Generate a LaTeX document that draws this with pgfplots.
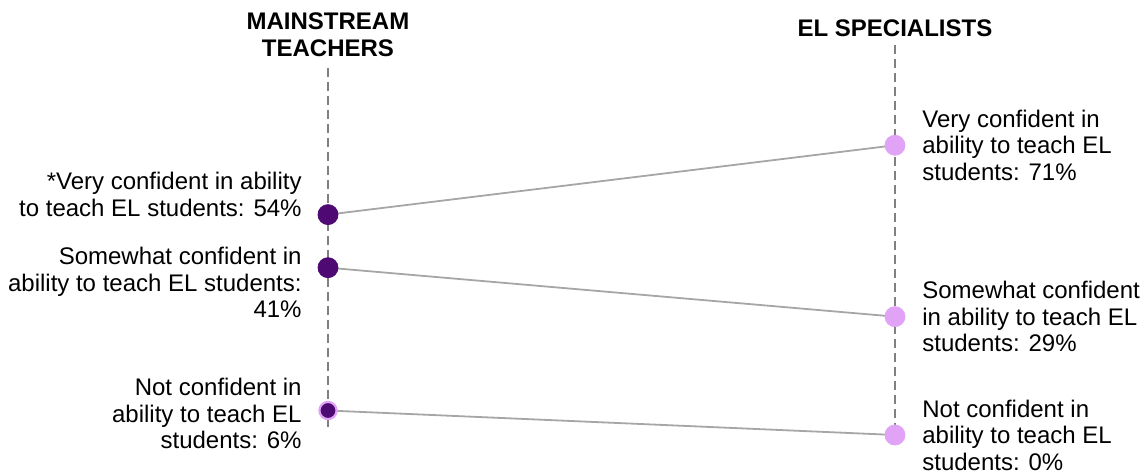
\documentclass[border=0pt]{standalone}
\usepackage{fontspec}
\setmainfont{Liberation Sans}
\usepackage{pgfplots}
\pgfplotsset{compat=1.18}

\definecolor{darkpurple}{HTML}{4E0A72}
\definecolor{lilac}{HTML}{E0A3F5}
\definecolor{slopegray}{HTML}{A6A6A6}
\definecolor{dashgray}{HTML}{808080}

\begin{document}
\begin{tikzpicture}
\begin{axis}[
    hide axis,
    scale only axis,
    width=572.5pt,
    height=237pt,
    xmin=-0.5785, xmax=1.441,
    ymin=-9.56, ymax=106.6,
    clip=false,
]
% guide lines for the two groups
\addplot[dashgray, line width=0.8pt, dash pattern=on 4.5pt off 2.5pt] coordinates {(0,90) (0,1.2)};
\addplot[dashgray, line width=0.8pt, dash pattern=on 4.5pt off 2.5pt] coordinates {(1,95.6) (1,2.5)};

% slopes
\addplot[slopegray, line width=0.9pt] coordinates {(0,54) (1,71)};
\addplot[slopegray, line width=0.9pt] coordinates {(0,41) (1,29)};
\addplot[slopegray, line width=0.9pt] coordinates {(0,6) (1,0)};

% mainstream teachers
\addplot[only marks, mark=*, mark size=5pt, mark options={fill=darkpurple, draw=darkpurple}] coordinates {(0,54) (0,41)};
\addplot[only marks, mark=*, mark size=4.3pt, mark options={fill=darkpurple, draw=lilac, line width=1.1pt}] coordinates {(0,6)};
% EL specialists
\addplot[only marks, mark=*, mark size=5pt, mark options={fill=lilac, draw=lilac}] coordinates {(1,71) (1,29) (1,0)};

% headers
\node[font=\fontsize{12}{13.5}\selectfont\bfseries, align=center] at (axis cs:0,98.0) {MAINSTREAM\\TEACHERS};
\node[font=\fontsize{12}{13.5}\selectfont\bfseries, align=center] at (axis cs:1,99.75) {EL SPECIALISTS};

% left labels
\begin{scope}[every node/.style={font=\fontsize{12}{13.25}\selectfont, align=right, anchor=east, inner sep=0pt}]
\node[xshift=-13pt, yshift=10pt] at (axis cs:0,54) {*Very confident in ability\\to teach EL students: 54\%};
\node[xshift=-13pt, yshift=-7.5pt] at (axis cs:0,41) {Somewhat confident in\\ability to teach EL students:\\41\%};
\node[xshift=-13pt, yshift=-1.5pt] at (axis cs:0,6) {Not confident in\\ability to teach EL\\students: 6\%};
\end{scope}

% right labels
\begin{scope}[every node/.style={font=\fontsize{12}{13.25}\selectfont, align=left, anchor=west, inner sep=0pt}]
\node[xshift=13.5pt] at (axis cs:1,71) {Very confident in\\ability to teach EL\\students: 71\%};
\node[xshift=13.5pt] at (axis cs:1,29) {Somewhat confident\\in ability to teach EL\\students: 29\%};
\node[xshift=13.5pt] at (axis cs:1,0) {Not confident in\\ability to teach EL\\students: 0\%};
\end{scope}
\end{axis}
\pgfresetboundingbox
\useasboundingbox (current axis.south west) rectangle (current axis.north east);
\end{tikzpicture}
\end{document}
